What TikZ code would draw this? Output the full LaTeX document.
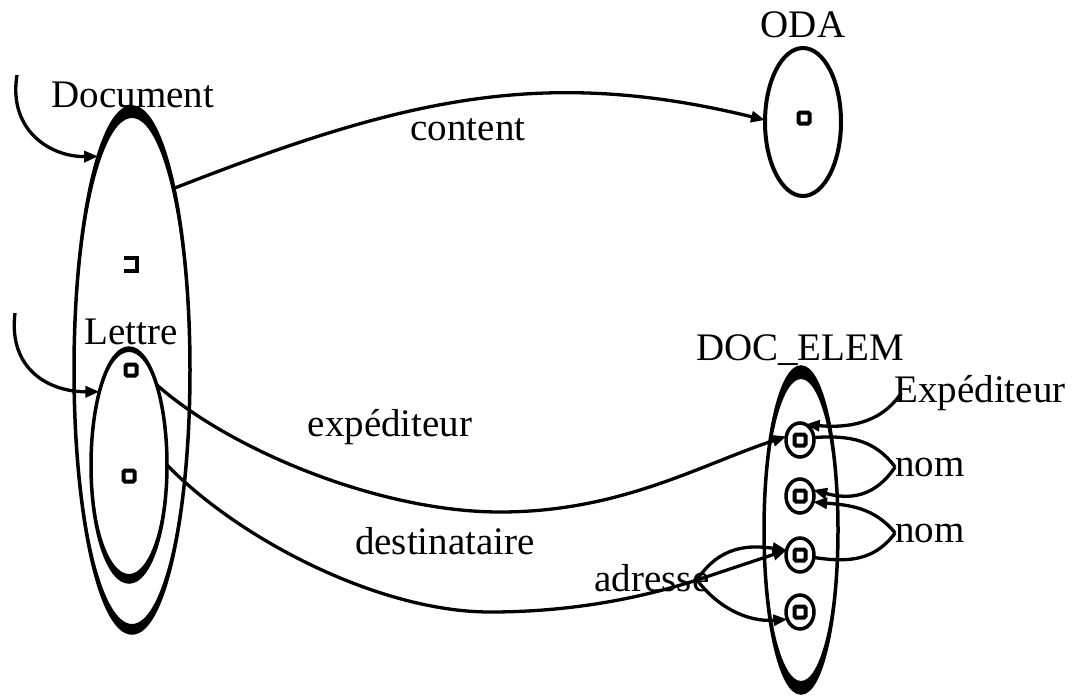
\documentclass[tikz,border=0pt]{standalone}
\usepackage{fontspec}
\setmainfont{Liberation Serif}
\usetikzlibrary{shapes.geometric,arrows.meta}
\begin{document}
\begin{tikzpicture}[x=1pt,y=-1pt,
  lab/.style={font=\fontsize{39}{45}\selectfont, inner sep=0pt},
  ell/.style={ellipse, draw, line width=3.5pt, inner sep=0pt, outer sep=0pt},
  conn/.style={line width=3.3pt, -{Triangle[length=14pt,width=11pt]}},
  plain/.style={line width=3.3pt},
  sqbox/.style={draw, line width=4pt, minimum size=11pt, inner sep=0pt, rounded corners=1.5pt}]
\useasboundingbox (0,0) rectangle (1074,697);

% ellipses
\node[ell, minimum width=116pt, minimum height=526pt] (doc) at (132,370) {};
\fill[even odd rule] (doc.center) ellipse [x radius=58, y radius=263] (132,371) ellipse [x radius=57, y radius=253];
\node[ell, minimum width=76pt, minimum height=234pt] (let) at (129,465) {};
\fill[even odd rule] (let.center) ellipse [x radius=38, y radius=117] (129,463) ellipse [x radius=37, y radius=111];
\node[ell, line width=4pt, minimum width=76pt, minimum height=148pt] (oda) at (803,122) {};
\node[ell, minimum width=74pt, minimum height=326pt] (de) at (801,530) {};
\fill[even odd rule] (de.center) ellipse [x radius=37, y radius=163] (de.center) ellipse [x radius=36, y radius=151];

% inner circles
\node[ell, minimum width=28pt, minimum height=34pt] (c1) at (800,440) {};
\node[ell, minimum width=28pt, minimum height=34pt] (c2) at (800,496) {};
\node[ell, minimum width=28pt, minimum height=34pt] (c3) at (800,555) {};
\node[ell, minimum width=28pt, minimum height=34pt] (c4) at (800,612) {};

% small squares
\node[sqbox] (s1) at (c1) {};
\node[sqbox] (s2) at (c2) {};
\node[sqbox] (s3) at (c3) {};
\node[sqbox] (s4) at (c4) {};
\node[sqbox] (so) at (804,118) {};
\node[sqbox] (sl1) at (131,370) {};
\node[sqbox] (sl2) at (129,476) {};
\draw[line width=4pt] (124,258) -- (137,258) -- (137,271) -- (124,271);

% labels
\node[lab] (odaL) at (803,25) {ODA};
\node[lab] (docL) at (133,95) {Document};
\node[lab] (letL) at (131,332) {Lettre};
\node[lab] (deL) at (800,350) {DOC\_ELEM};
\node[lab] (contL) at (468,130) {content};
\node[lab] (expL) at (390,427) {expéditeur};
\node[lab] (destL) at (445,541) {destinataire};
\node[lab] (adrL) at (652,578) {adresse};
\node[lab] (ExpL) at (980,393) {Expéditeur};
\node[lab] (nom1) at (930,467) {nom};
\node[lab] (nom2) at (930,533) {nom};

\coordinate (docin) at (17,75);
\coordinate (letin) at (15,313);
\coordinate (hub) at (697,580);

% connectors
\draw[conn] (docin) .. controls (8,130) and (50,157) .. (doc.99);
\draw[conn] (letin) .. controls (8,370) and (50,392) .. (let.112);
\draw[conn] (doc.77) .. controls (400,100) and (540,65) .. (oda.177);
\draw[conn] (let.71) .. controls (230,450) and (380,512) .. (500,512) .. controls (620,512) and (700,465) .. (c1.165);
\draw[plain] (let.east) .. controls (240,540) and (380,612) .. (490,612) .. controls (580,612) and (650,595) .. (hub);
\draw[conn] (hub) -- (c3.160);
\draw[conn] (hub) .. controls (720,545) and (750,545) .. (c3.160);
\draw[conn] (hub) .. controls (720,610) and (750,622) .. (c4.-150);
\draw[conn] ([xshift=7pt]ExpL.west) .. controls (880,425) and (845,428) .. (c1.70);
\draw[plain] (nom1.west) .. controls (875,440) and (850,435) .. (c1.10);
\draw[conn] (nom1.west) .. controls (875,497) and (850,500) .. (c2.25);
\draw[conn] (nom2.west) .. controls (875,508) and (850,505) .. (c2.-25);
\draw[plain] (nom2.west) .. controls (875,560) and (850,563) .. (c3.-10);
\end{tikzpicture}
\end{document}
